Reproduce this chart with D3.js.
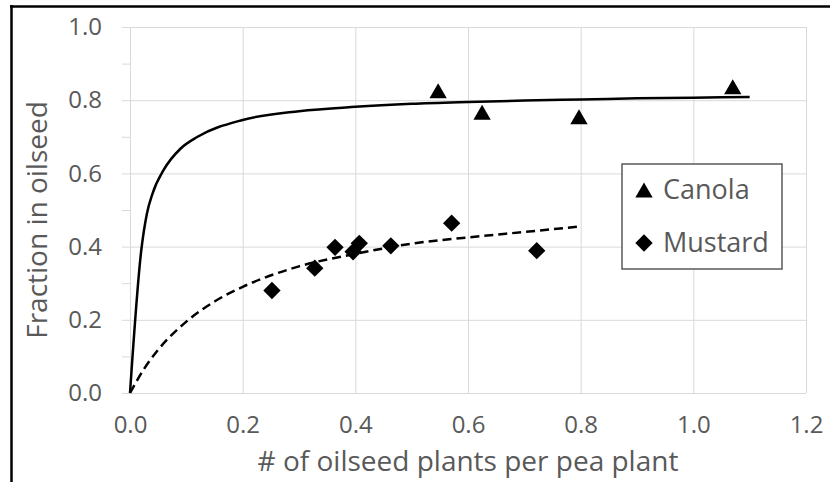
<!DOCTYPE html>
<html>
<head>
<meta charset="utf-8">
<script src="https://d3js.org/d3.v7.min.js"></script>
<style>
    body {
        margin: 0;
        background-color: white;
        font-family: "Open Sans", sans-serif;
    }

    svg {
        display: block;
    }
</style>
</head>
<body>
<svg></svg>
<script>
    // measured points
    const canolaX = [0.547, 0.625, 0.797, 1.07];
    const canolaY = [0.826, 0.767, 0.755, 0.837];
    const mustardX = [0.252, 0.328, 0.364, 0.396, 0.407, 0.463, 0.571, 0.722];
    const mustardY = [0.280, 0.341, 0.398, 0.386, 0.409, 0.402, 0.464, 0.389];

    // fitted curves
    const canolaFitX = [0, 0.02, 0.03, 0.04, 0.06, 0.09, 0.12, 0.2, 0.3, 0.4, 0.5, 0.6, 0.7, 0.8, 0.9, 1.0, 1.1];
    const canolaFitY = [0, 0.39, 0.49, 0.545, 0.61, 0.668, 0.70, 0.746, 0.77, 0.782, 0.79, 0.795, 0.799, 0.802, 0.805, 0.807, 0.809];
    const mustardFitX = [0, 0.025, 0.05, 0.1, 0.15, 0.2, 0.3, 0.4, 0.5, 0.6, 0.7, 0.8];
    const mustardFitY = [0, 0.066, 0.118, 0.195, 0.25, 0.29, 0.346, 0.38, 0.408, 0.425, 0.44, 0.455];

    const xTicks = [0, 0.2, 0.4, 0.6, 0.8, 1.0, 1.2];
    const yTicks = [0, 0.2, 0.4, 0.6, 0.8, 1.0];
    const yMinorTicks = [0.1, 0.3, 0.5, 0.7, 0.9];

    const seriesNames = ["Canola", "Mustard"];

    function createVis() {
        let width = 830;
        let height = 482;
        let svg = d3.select("svg")
            .attr("width", width)
            .attr("height", height);

        let plot = {left: 130, right: 806, top: 27, bottom: 393};
        let grid = "#d9d9d9";
        let textColor = "#595959";

        let xScale = d3.scaleLinear().domain([0, 1.2]).range([plot.left, plot.right]);
        let yScale = d3.scaleLinear().domain([0, 1.0]).range([plot.bottom, plot.top]);

        // outer frame (only top and left edges visible)
        svg.append("line")
            .attr("x1", 10).attr("x2", width)
            .attr("y1", 6.5).attr("y2", 6.5)
            .attr("stroke", "black").attr("stroke-width", 2.5);
        svg.append("line")
            .attr("x1", 11.5).attr("x2", 11.5)
            .attr("y1", 5).attr("y2", height)
            .attr("stroke", "black").attr("stroke-width", 2.5);

        // horizontal gridlines + y labels
        svg.append("g")
            .attr("transform", `translate(${plot.left},0)`)
            .call(d3.axisLeft(yScale)
                .tickValues(yTicks)
                .tickSize(-(plot.right - plot.left))
                .tickFormat(d3.format(".1f"))
                .tickPadding(0))
            .call(g => g.select(".domain").remove())
            .call(g => g.selectAll(".tick line")
                .attr("stroke", grid)
                .attr("x1", -8))
            .call(g => g.selectAll(".tick text")
                .attr("x", -28)
                .attr("fill", textColor)
                .attr("font-size", 24)
                .attr("font-family", "Open Sans"));

        // minor ticks on y axis
        svg.append("g")
            .attr("transform", `translate(${plot.left},0)`)
            .call(d3.axisLeft(yScale)
                .tickValues(yMinorTicks)
                .tickSize(8)
                .tickFormat(""))
            .call(g => g.select(".domain").remove())
            .call(g => g.selectAll(".tick line").attr("stroke", grid));

        // vertical gridlines + x labels
        svg.append("g")
            .attr("transform", `translate(0,${plot.bottom})`)
            .call(d3.axisBottom(xScale)
                .tickValues(xTicks)
                .tickSize(-(plot.bottom - plot.top))
                .tickFormat(d3.format(".1f"))
                .tickPadding(0))
            .call(g => g.select(".domain").remove())
            .call(g => g.selectAll(".tick line").attr("stroke", grid))
            .call(g => g.selectAll(".tick text")
                .attr("y", 23)
                .attr("fill", textColor)
                .attr("font-size", 24)
                .attr("font-family", "Open Sans"));

        // axis titles
        svg.append("text")
            .attr("x", (plot.left + plot.right) / 2)
            .attr("y", 471)
            .attr("text-anchor", "middle")
            .attr("fill", textColor)
            .attr("font-size", 28)
            .text("# of oilseed plants per pea plant");

        svg.append("text")
            .attr("transform", "translate(47,220) rotate(-90)")
            .attr("text-anchor", "middle")
            .attr("fill", textColor)
            .attr("font-size", 28)
            .text("Fraction in oilseed");

        // fitted curves
        let line = d3.line()
            .x(d => xScale(d[0]))
            .y(d => yScale(d[1]))
            .curve(d3.curveMonotoneX);

        svg.append("path")
            .datum(canolaFitX.map((x, i) => [x, canolaFitY[i]]))
            .attr("d", line)
            .attr("fill", "none")
            .attr("stroke", "black")
            .attr("stroke-width", 2.5);

        svg.append("path")
            .datum(mustardFitX.map((x, i) => [x, mustardFitY[i]]))
            .attr("d", line)
            .attr("fill", "none")
            .attr("stroke", "black")
            .attr("stroke-width", 2.5)
            .attr("stroke-dasharray", "9,5");

        // markers
        let triangle = d3.symbol().type(d3.symbolTriangle).size(130);
        let diamond = d3.symbol().type(d3.symbolSquare).size(150);

        svg.selectAll(".canola")
            .data(canolaX.map((x, i) => [x, canolaY[i]]))
            .join("path")
            .attr("class", "canola")
            .attr("d", triangle)
            .attr("transform", d => `translate(${xScale(d[0])},${yScale(d[1]) + 2.5})`)
            .attr("fill", "black");

        svg.selectAll(".mustard")
            .data(mustardX.map((x, i) => [x, mustardY[i]]))
            .join("path")
            .attr("class", "mustard")
            .attr("d", diamond)
            .attr("transform", d => `translate(${xScale(d[0])},${yScale(d[1])}) rotate(45)`)
            .attr("fill", "black");

        // legend
        let legend = svg.append("g");
        legend.append("rect")
            .attr("x", 622).attr("y", 164)
            .attr("width", 160).attr("height", 105)
            .attr("fill", "white")
            .attr("stroke", "#595959")
            .attr("stroke-width", 1.5);

        let items = legend.selectAll(".item")
            .data(seriesNames)
            .join("g")
            .attr("class", "item")
            .attr("transform", (d, i) => `translate(644,${190 + i * 53})`);

        items.append("path")
            .attr("d", (d, i) => i === 0 ? triangle() : diamond())
            .attr("transform", (d, i) => i === 0 ? "translate(0,2.5)" : "rotate(45)")
            .attr("fill", "black");

        items.append("text")
            .attr("x", 19)
            .attr("y", 0)
            .attr("dy", "0.35em")
            .attr("fill", textColor)
            .attr("font-size", 27)
            .text(d => d);
    }
    createVis();
</script>
</body>
</html>
